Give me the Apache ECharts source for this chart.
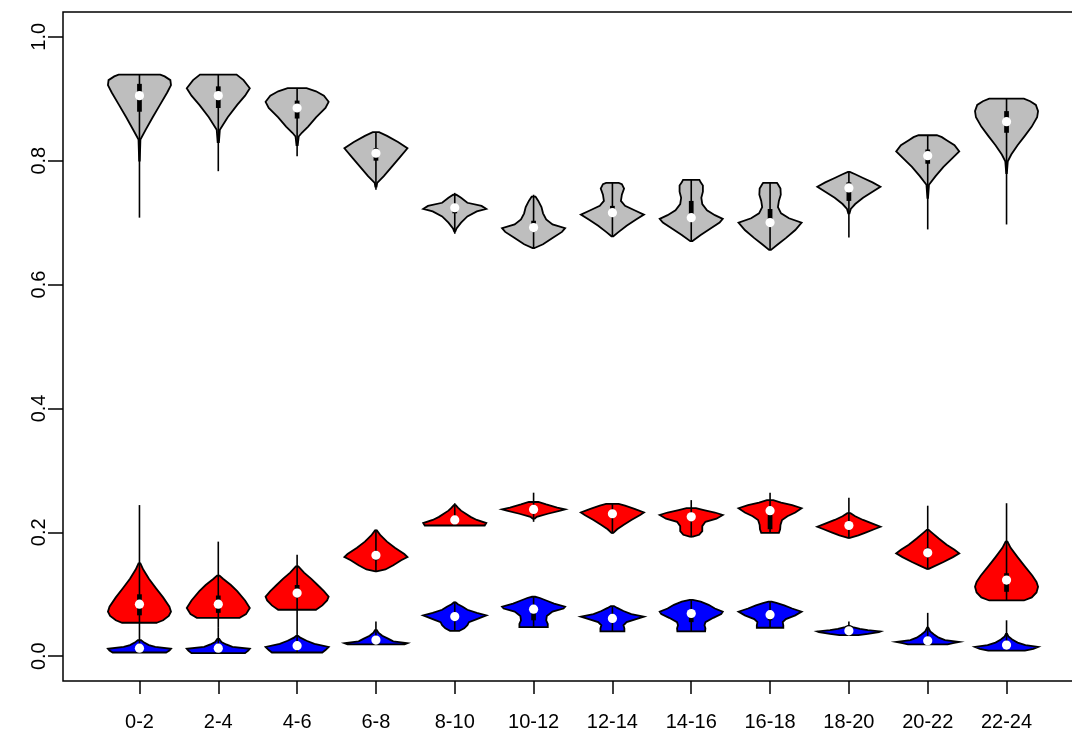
<!DOCTYPE html>
<html>
<head>
<meta charset="utf-8">
<script src="https://cdn.jsdelivr.net/npm/echarts@6/dist/echarts.min.js"></script>
<style>
  html, body { margin: 0; padding: 0; background: #ffffff; }
  #chart { width: 1072px; height: 731px; }
</style>
</head>
<body>
<div id="chart"></div>
<script>
// Two-hour time windows along the x axis
const categories = ['0-2', '2-4', '4-6', '6-8', '8-10', '10-12', '12-14', '14-16', '16-18', '18-20', '20-22', '22-24'];
const yTicks = [0, 0.2, 0.4, 0.6, 0.8, 1.0];

// Summary per window: [lower whisker, Q1, median, Q3, upper whisker]
const grayStats = [
  [0.708, 0.879, 0.905, 0.924, 0.939],
  [0.783, 0.885, 0.905, 0.920, 0.939],
  [0.807, 0.868, 0.885, 0.897, 0.917],
  [0.753, 0.800, 0.812, 0.820, 0.846],
  [0.682, 0.715, 0.724, 0.728, 0.748],
  [0.659, 0.686, 0.692, 0.703, 0.745],
  [0.678, 0.710, 0.716, 0.727, 0.764],
  [0.670, 0.703, 0.708, 0.735, 0.769],
  [0.656, 0.695, 0.700, 0.722, 0.764],
  [0.676, 0.735, 0.756, 0.765, 0.782],
  [0.689, 0.795, 0.808, 0.818, 0.841],
  [0.697, 0.845, 0.863, 0.880, 0.900]
];
const redStats = [
  [0.054, 0.066, 0.084, 0.100, 0.244],
  [0.047, 0.070, 0.084, 0.098, 0.185],
  [0.075, 0.095, 0.102, 0.115, 0.164],
  [0.137, 0.155, 0.163, 0.170, 0.204],
  [0.211, 0.216, 0.220, 0.226, 0.247],
  [0.217, 0.232, 0.237, 0.241, 0.264],
  [0.198, 0.224, 0.230, 0.236, 0.246],
  [0.192, 0.220, 0.225, 0.231, 0.252],
  [0.199, 0.205, 0.235, 0.240, 0.264],
  [0.190, 0.205, 0.211, 0.216, 0.256],
  [0.140, 0.160, 0.167, 0.175, 0.243],
  [0.090, 0.104, 0.123, 0.134, 0.247]
];
const blueStats = [
  [0.006, 0.009, 0.013, 0.016, 0.054],
  [0.005, 0.009, 0.013, 0.016, 0.047],
  [0.006, 0.012, 0.017, 0.021, 0.075],
  [0.019, 0.022, 0.026, 0.029, 0.056],
  [0.041, 0.058, 0.064, 0.069, 0.088],
  [0.047, 0.058, 0.076, 0.080, 0.096],
  [0.040, 0.055, 0.061, 0.066, 0.081],
  [0.040, 0.055, 0.069, 0.073, 0.091],
  [0.046, 0.058, 0.067, 0.071, 0.088],
  [0.034, 0.038, 0.041, 0.043, 0.056],
  [0.019, 0.022, 0.025, 0.028, 0.070],
  [0.009, 0.013, 0.018, 0.021, 0.058]
];

// Density outlines: [value, relative half-width (1 = widest)], bottom to top
const grayShapes = [
  [[0.80, 0.01], [0.834, 0.03], [0.85, 0.2], [0.87, 0.42], [0.89, 0.65], [0.91, 0.88], [0.922, 1.0], [0.93, 0.98], [0.936, 0.8], [0.939, 0.66]],
  [[0.83, 0.02], [0.85, 0.05], [0.87, 0.3], [0.89, 0.6], [0.905, 0.85], [0.917, 1.0], [0.93, 0.8], [0.939, 0.58]],
  [[0.825, 0.02], [0.839, 0.05], [0.845, 0.15], [0.855, 0.35], [0.87, 0.6], [0.885, 0.9], [0.895, 1.0], [0.905, 0.85], [0.912, 0.6], [0.917, 0.3]],
  [[0.758, 0.02], [0.764, 0.04], [0.775, 0.25], [0.79, 0.5], [0.805, 0.75], [0.82, 1.0], [0.83, 0.7], [0.84, 0.35], [0.846, 0.1]],
  [[0.686, 0.02], [0.69, 0.05], [0.70, 0.2], [0.71, 0.4], [0.718, 0.7], [0.722, 1.0], [0.727, 0.85], [0.732, 0.4], [0.74, 0.2], [0.745, 0.05]],
  [[0.659, 0.03], [0.665, 0.3], [0.675, 0.6], [0.685, 0.9], [0.691, 1.0], [0.697, 0.6], [0.705, 0.4], [0.715, 0.3], [0.725, 0.25], [0.735, 0.15], [0.742, 0.06]],
  [[0.678, 0.03], [0.685, 0.2], [0.695, 0.45], [0.705, 0.75], [0.713, 1.0], [0.72, 0.7], [0.727, 0.4], [0.735, 0.27], [0.745, 0.3], [0.755, 0.37], [0.762, 0.3], [0.764, 0.2]],
  [[0.670, 0.03], [0.68, 0.3], [0.69, 0.6], [0.70, 0.9], [0.706, 1.0], [0.712, 0.75], [0.72, 0.5], [0.73, 0.35], [0.74, 0.32], [0.75, 0.37], [0.76, 0.37], [0.765, 0.3], [0.769, 0.26]],
  [[0.656, 0.03], [0.665, 0.25], [0.675, 0.5], [0.688, 0.8], [0.70, 1.0], [0.707, 0.6], [0.715, 0.35], [0.725, 0.25], [0.735, 0.28], [0.745, 0.34], [0.755, 0.33], [0.762, 0.25], [0.764, 0.22]],
  [[0.715, 0.02], [0.722, 0.06], [0.73, 0.2], [0.74, 0.45], [0.75, 0.75], [0.758, 1.0], [0.765, 0.75], [0.772, 0.45], [0.778, 0.2], [0.782, 0.03]],
  [[0.74, 0.01], [0.761, 0.04], [0.775, 0.25], [0.79, 0.5], [0.805, 0.8], [0.815, 1.0], [0.825, 0.85], [0.833, 0.6], [0.838, 0.45], [0.841, 0.29]],
  [[0.78, 0.01], [0.799, 0.04], [0.81, 0.15], [0.825, 0.35], [0.84, 0.58], [0.855, 0.8], [0.87, 0.97], [0.88, 1.0], [0.89, 0.93], [0.896, 0.75], [0.900, 0.55]]
];
const redShapes = [
  [[0.054, 0.55], [0.058, 0.75], [0.065, 0.93], [0.072, 1.0], [0.08, 0.95], [0.095, 0.75], [0.11, 0.52], [0.125, 0.3], [0.14, 0.12], [0.15, 0.03]],
  [[0.062, 0.68], [0.068, 0.88], [0.078, 1.0], [0.09, 0.85], [0.105, 0.6], [0.115, 0.4], [0.125, 0.15], [0.13, 0.04]],
  [[0.075, 0.6], [0.082, 0.8], [0.09, 0.95], [0.096, 1.0], [0.105, 0.85], [0.115, 0.65], [0.125, 0.45], [0.135, 0.22], [0.145, 0.04]],
  [[0.137, 0.02], [0.14, 0.3], [0.147, 0.55], [0.155, 0.8], [0.16, 1.0], [0.165, 0.9], [0.175, 0.6], [0.185, 0.35], [0.195, 0.15], [0.203, 0.03]],
  [[0.211, 0.95], [0.215, 1.0], [0.22, 0.7], [0.225, 0.5], [0.23, 0.35], [0.235, 0.2], [0.24, 0.1], [0.244, 0.03]],
  [[0.222, 0.03], [0.225, 0.1], [0.23, 0.45], [0.235, 0.85], [0.237, 1.0], [0.24, 0.75], [0.245, 0.4], [0.249, 0.15]],
  [[0.199, 0.03], [0.205, 0.15], [0.212, 0.35], [0.22, 0.6], [0.228, 0.88], [0.232, 1.0], [0.238, 0.7], [0.243, 0.4], [0.246, 0.2]],
  [[0.193, 0.05], [0.196, 0.25], [0.202, 0.35], [0.21, 0.35], [0.217, 0.45], [0.222, 0.8], [0.228, 1.0], [0.232, 0.75], [0.236, 0.4], [0.239, 0.15]],
  [[0.199, 0.28], [0.205, 0.32], [0.212, 0.33], [0.22, 0.38], [0.226, 0.55], [0.232, 0.8], [0.239, 1.0], [0.244, 0.7], [0.248, 0.35], [0.252, 0.1]],
  [[0.191, 0.03], [0.195, 0.3], [0.2, 0.55], [0.205, 0.8], [0.209, 1.0], [0.214, 0.75], [0.22, 0.45], [0.226, 0.2], [0.231, 0.05]],
  [[0.141, 0.03], [0.145, 0.2], [0.152, 0.5], [0.16, 0.8], [0.166, 1.0], [0.172, 0.85], [0.18, 0.6], [0.19, 0.35], [0.2, 0.12], [0.204, 0.03]],
  [[0.090, 0.55], [0.095, 0.8], [0.103, 0.95], [0.112, 1.0], [0.12, 0.95], [0.13, 0.82], [0.145, 0.58], [0.16, 0.35], [0.175, 0.13], [0.185, 0.03]]
];
const blueShapes = [
  [[0.006, 0.85], [0.009, 0.95], [0.012, 1.0], [0.015, 0.5], [0.018, 0.3], [0.022, 0.15], [0.026, 0.05]],
  [[0.005, 0.85], [0.009, 0.95], [0.012, 1.0], [0.015, 0.45], [0.019, 0.25], [0.023, 0.1], [0.028, 0.03]],
  [[0.006, 0.8], [0.01, 0.9], [0.015, 1.0], [0.02, 0.55], [0.025, 0.3], [0.03, 0.1], [0.033, 0.03]],
  [[0.019, 0.9], [0.021, 1.0], [0.024, 0.55], [0.028, 0.4], [0.033, 0.2], [0.038, 0.08], [0.042, 0.03]],
  [[0.041, 0.15], [0.045, 0.3], [0.05, 0.4], [0.055, 0.45], [0.06, 0.7], [0.066, 1.0], [0.07, 0.7], [0.075, 0.4], [0.08, 0.25], [0.084, 0.1], [0.087, 0.03]],
  [[0.047, 0.45], [0.052, 0.45], [0.058, 0.4], [0.065, 0.42], [0.072, 0.6], [0.077, 0.95], [0.08, 1.0], [0.085, 0.65], [0.09, 0.4], [0.094, 0.2], [0.096, 0.05]],
  [[0.040, 0.38], [0.045, 0.38], [0.05, 0.35], [0.055, 0.45], [0.06, 0.75], [0.064, 1.0], [0.068, 0.6], [0.073, 0.35], [0.078, 0.15], [0.081, 0.05]],
  [[0.040, 0.44], [0.045, 0.45], [0.05, 0.42], [0.055, 0.45], [0.062, 0.7], [0.068, 0.95], [0.072, 1.0], [0.077, 0.75], [0.083, 0.55], [0.088, 0.3], [0.091, 0.05]],
  [[0.046, 0.42], [0.05, 0.42], [0.055, 0.4], [0.06, 0.5], [0.066, 0.8], [0.072, 1.0], [0.077, 0.7], [0.082, 0.45], [0.086, 0.2], [0.088, 0.05]],
  [[0.034, 0.3], [0.036, 0.6], [0.039, 0.95], [0.04, 1.0], [0.042, 0.6], [0.044, 0.35], [0.047, 0.12], [0.049, 0.03]],
  [[0.019, 0.63], [0.021, 0.8], [0.023, 1.0], [0.026, 0.55], [0.03, 0.35], [0.035, 0.2], [0.04, 0.08], [0.046, 0.02]],
  [[0.009, 0.58], [0.012, 0.85], [0.015, 1.0], [0.018, 0.6], [0.022, 0.35], [0.027, 0.18], [0.032, 0.06], [0.036, 0.02]]
];

// Widest half-width of a violin and half-width of the IQR bar, in x-axis units
const VIOLIN_HALF = 0.4;
const BOX_HALF = 0.03;

function violinRenderer(shapes, stats, fill) {
  return function (params, api) {
    const x = api.value(0);
    const idx = api.value(1);
    const shape = shapes[idx];
    const st = stats[idx];
    const right = shape.map(function (p) { return api.coord([x + p[1] * VIOLIN_HALF, p[0]]); });
    const left = shape.slice().reverse().map(function (p) { return api.coord([x - p[1] * VIOLIN_HALF, p[0]]); });
    const lo = api.coord([x, st[0]]);
    const hi = api.coord([x, st[4]]);
    const q1 = api.coord([x - BOX_HALF, st[1]]);
    const q3 = api.coord([x + BOX_HALF, st[3]]);
    const med = api.coord([x, st[2]]);
    return {
      type: 'group',
      children: [
        {
          type: 'polygon',
          shape: { points: right.concat(left) },
          style: { fill: fill, stroke: '#000000', lineWidth: 1.8, lineJoin: 'miter' }
        },
        {
          type: 'line',
          shape: { x1: lo[0], y1: lo[1], x2: hi[0], y2: hi[1] },
          style: { stroke: '#000000', lineWidth: 1.6 }
        },
        {
          type: 'rect',
          shape: { x: q1[0], y: q3[1], width: q3[0] - q1[0], height: Math.max(q1[1] - q3[1], 1) },
          style: { fill: '#000000' }
        },
        {
          type: 'circle',
          shape: { cx: med[0], cy: med[1], r: 4.6 },
          style: { fill: '#ffffff' }
        }
      ]
    };
  };
}

const itemData = categories.map(function (c, i) { return [i + 1, i]; });
const tickPositions = categories.map(function (c, i) { return i + 1; });

const chart = echarts.init(document.getElementById('chart'), null, { renderer: 'canvas' });
chart.setOption({
  backgroundColor: '#ffffff',
  animation: false,
  grid: {
    left: 63, top: 12, bottom: 50, right: -11,
    show: true, borderColor: '#000000', borderWidth: 1.5,
    outerBoundsMode: 'none'
  },
  xAxis: {
    type: 'value',
    min: 0.03, max: 12.97,
    splitLine: { show: false },
    axisLine: { show: false, onZero: false },
    axisTick: { show: true, customValues: tickPositions, length: 13, lineStyle: { color: '#000000', width: 1.5 } },
    axisLabel: {
      customValues: tickPositions,
      formatter: function (v) { return categories[Math.round(v) - 1] || ''; },
      color: '#000000', fontFamily: 'Liberation Sans, Arial, sans-serif', fontSize: 20, margin: 31
    }
  },
  yAxis: {
    type: 'value',
    min: -0.04, max: 1.04,
    splitLine: { show: false },
    axisLine: { show: false, onZero: false },
    axisTick: { show: true, customValues: yTicks, length: 15, lineStyle: { color: '#000000', width: 1.5 } },
    axisLabel: {
      customValues: yTicks,
      rotate: 90,
      formatter: function (v) { return v.toFixed(1); },
      color: '#000000', fontFamily: 'Liberation Sans, Arial, sans-serif', fontSize: 20, margin: 14
    }
  },
  series: [
    { type: 'custom', name: 'gray', clip: false, data: itemData, renderItem: violinRenderer(grayShapes, grayStats, '#bebebe') },
    { type: 'custom', name: 'red', clip: false, data: itemData, renderItem: violinRenderer(redShapes, redStats, '#ff0000') },
    { type: 'custom', name: 'blue', clip: false, data: itemData, renderItem: violinRenderer(blueShapes, blueStats, '#0000ff') }
  ]
});
</script>
</body>
</html>
